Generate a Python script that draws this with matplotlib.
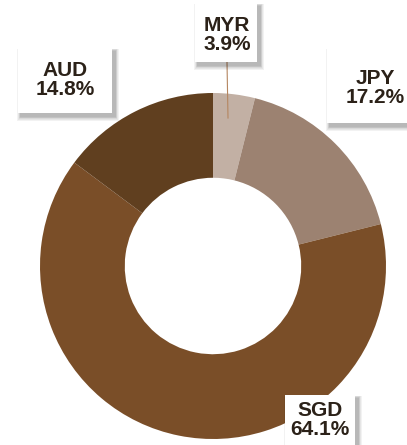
import matplotlib.pyplot as plt
from matplotlib.patches import Rectangle

currencies = ["MYR", "JPY", "SGD", "AUD"]
shares = [3.9, 17.2, 64.1, 14.8]
colors = ["#c2b0a4", "#9c8271", "#7a4e28", "#603f1f"]

# label boxes in pixel coords: left, top, right, bottom (y from top)
boxes = {"MYR": (195, 3, 257, 62), "JPY": (327, 48, 414, 123),
         "SGD": (285, 395, 355, 452), "AUD": (18, 48, 112, 113)}
text_pos = {"MYR": (227, 35), "JPY": (375, 88), "SGD": (320, 420), "AUD": (65, 80)}

W, H = 407, 445
fig = plt.figure(figsize=(W / 100, H / 100), dpi=100)
ax = fig.add_axes([0, 0, 1, 1])

cx, cy, r = 213, H - 266, 173
ax.pie(shares, colors=colors, startangle=90, counterclock=False,
       center=(cx, cy), radius=r, wedgeprops=dict(width=r * 0.49, linewidth=0),
       frame=True)
ax.set_xlim(0, W)
ax.set_ylim(0, H)
ax.set_aspect("equal")
ax.axis("off")

# leader line for MYR
ax.plot([227, 228], [H - 62, H - 118], color="#b58660", lw=0.8, zorder=3)

for cur, val in zip(currencies, shares):
    l, t, rr, b = boxes[cur]
    # soft shadow, offset down-right
    for k in range(6):
        g = 6 - k
        ax.add_patch(Rectangle((l + 3 - g * 0.6, H - b - 3 - g * 0.8),
                               rr - l + g * 1.2, b - t + g * 1.2,
                               fc="black", ec="none", alpha=0.05, zorder=4))
    ax.add_patch(Rectangle((l, H - b), rr - l, b - t, fc="white", ec="none", zorder=5))
    x, y = text_pos[cur]
    ax.text(x, H - y, f"{cur}\n{val:.1f}%", ha="center", va="center",
            fontsize=15, fontweight="bold", family="Liberation Sans",
            color="#2b2118", linespacing=0.95, zorder=6)

fig.savefig("out.png", dpi=100)
